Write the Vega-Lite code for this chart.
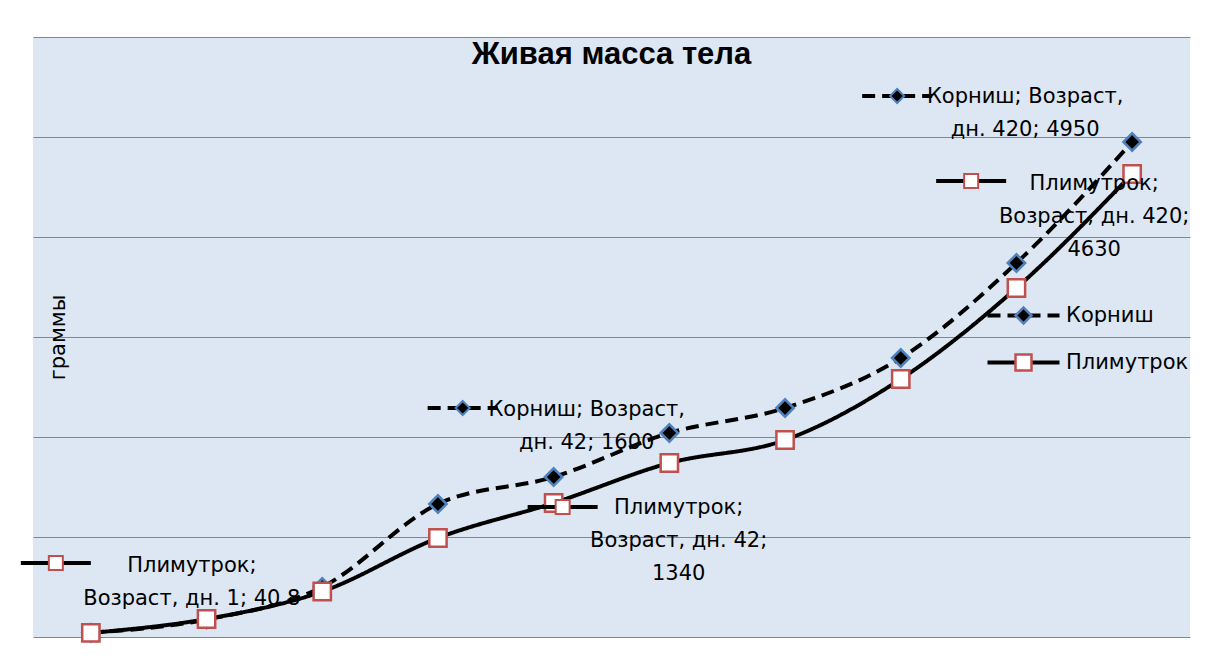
{
  "$schema": "https://vega.github.io/schema/vega-lite/v6.json",
  "width": 1157,
  "height": 600,
  "autosize": {"type": "none"},
  "padding": {"left": 33, "top": 37, "right": 16, "bottom": 22},
  "background": "white",
  "config": {
    "view": {"fill": "#dde7f3", "stroke": null},
    "font": "DejaVu Sans"
  },
  "title": {
    "text": "Живая масса тела",
    "font": "Liberation Sans",
    "fontSize": 31,
    "fontWeight": "bold",
    "color": "#000000",
    "anchor": "middle",
    "frame": "group",
    "baseline": "alphabetic",
    "offset": -27,
    "dy": 31
  },
  "data": {
    "values": [
      {"series": "Корниш", "age": 1, "grams": 42},
      {"series": "Корниш", "age": 7, "grams": 175},
      {"series": "Корниш", "age": 14, "grams": 500},
      {"series": "Корниш", "age": 28, "grams": 1330},
      {"series": "Корниш", "age": 42, "grams": 1600, "label": "Корниш; Возраст,\nдн. 42; 1600"},
      {"series": "Корниш", "age": 60, "grams": 2040},
      {"series": "Корниш", "age": 90, "grams": 2290},
      {"series": "Корниш", "age": 120, "grams": 2790},
      {"series": "Корниш", "age": 180, "grams": 3740},
      {"series": "Корниш", "age": 420, "grams": 4950, "label": "Корниш; Возраст,\nдн. 420; 4950"},
      {"series": "Плимутрок", "age": 1, "grams": 40.8, "label": "Плимутрок;\nВозраст, дн. 1; 40.8"},
      {"series": "Плимутрок", "age": 7, "grams": 180},
      {"series": "Плимутрок", "age": 14, "grams": 455},
      {"series": "Плимутрок", "age": 28, "grams": 990},
      {"series": "Плимутрок", "age": 42, "grams": 1340, "label": "Плимутрок;\nВозраст, дн. 42;\n1340"},
      {"series": "Плимутрок", "age": 60, "grams": 1740},
      {"series": "Плимутрок", "age": 90, "grams": 1970},
      {"series": "Плимутрок", "age": 120, "grams": 2580},
      {"series": "Плимутрок", "age": 180, "grams": 3490},
      {"series": "Плимутрок", "age": 420, "grams": 4630, "label": "Плимутрок;\nВозраст, дн. 420;\n4630"}
    ]
  },
  "encoding": {
    "x": {"field": "age", "type": "ordinal", "axis": null, "scale": {"type": "point", "padding": 0.5}},
    "y": {
      "field": "grams",
      "type": "quantitative",
      "scale": {"domain": [0, 6000], "nice": false},
      "axis": {
        "values": [0, 1000, 2000, 3000, 4000, 5000, 6000],
        "grid": true,
        "gridColor": "#868686",
        "gridWidth": 1,
        "gridOpacity": 1,
        "labels": false,
        "ticks": false,
        "domain": false,
        "title": "граммы",
        "titleFont": "DejaVu Sans",
        "titleFontSize": 21,
        "titleFontWeight": "normal",
        "titleColor": "#000000",
        "titleAngle": -90,
        "titleAlign": "center",
        "titleBaseline": "alphabetic",
        "titleX": 31,
        "titleY": 300
      }
    }
  },
  "layer": [
    {
      "mark": {"type": "line", "color": "#000000", "strokeWidth": 4, "interpolate": "monotone", "strokeCap": "butt"},
      "encoding": {
        "strokeDash": {
          "field": "series",
          "type": "nominal",
          "scale": {"range": [[13, 7], [1, 0]]},
          "legend": {
            "orient": "none",
            "legendX": 980,
            "legendY": 268,
            "title": null,
            "padding": 0,
            "symbolType": "M-4.5,0H4.5",
            "symbolSize": 256,
            "symbolStrokeWidth": 4,
            "symbolStrokeColor": "#000000",
            "labelFont": "DejaVu Sans",
            "labelFontSize": 21,
            "labelColor": "#000000",
            "labelOffset": 32,
            "rowPadding": 25
          }
        }
      }
    },
    {
      "mark": {"type": "point", "filled": true, "size": 300, "strokeWidth": 2.5, "opacity": 1},
      "encoding": {
        "shape": {
          "field": "series",
          "type": "nominal",
          "scale": {"domain": ["Корниш", "Плимутрок"], "range": ["diamond", "square"]},
          "legend": {
            "orient": "none",
            "legendX": 980,
            "legendY": 268,
            "title": null,
            "padding": 0,
            "symbolSize": 256,
            "symbolStrokeWidth": 2.5,
            "labelFont": "DejaVu Sans",
            "labelFontSize": 21,
            "labelExpr": "''",
            "labelOffset": 32,
            "rowPadding": 20
          }
        },
        "fill": {
          "field": "series",
          "type": "nominal",
          "scale": {"domain": ["Корниш", "Плимутрок"], "range": ["#000000", "#ffffff"]}
        },
        "stroke": {
          "field": "series",
          "type": "nominal",
          "scale": {"domain": ["Корниш", "Плимутрок"], "range": ["#4f81bd", "#c0504d"]}
        }
      }
    },
    {
      "transform": [{"filter": {"and": [{"field": "series", "equal": "Плимутрок"}, {"field": "age", "equal": 1}]}}],
      "layer": [
        {"mark": {"type": "point", "shape": "M-3.5,0H3.5", "size": 400, "filled": false, "stroke": "#000000", "strokeWidth": 4, "opacity": 1, "xOffset": -35, "yOffset": -70}},
        {"mark": {"type": "point", "shape": "square", "size": 196, "filled": true, "fill": "#ffffff", "stroke": "#c0504d", "strokeWidth": 2, "opacity": 1, "xOffset": -35, "yOffset": -70}},
        {"mark": {"type": "text", "font": "DejaVu Sans", "fontSize": 21, "lineBreak": "\n", "lineHeight": 33, "align": "center", "baseline": "middle", "color": "#000000", "dx": 101, "dy": -67}, "encoding": {"text": {"field": "label"}}}
      ]
    },
    {
      "transform": [{"filter": {"and": [{"field": "series", "equal": "Корниш"}, {"field": "age", "equal": 42}]}}],
      "layer": [
        {"mark": {"type": "point", "shape": "M-3.5,0H3.5", "size": 400, "filled": false, "stroke": "#000000", "strokeWidth": 4, "strokeDash": [13, 7], "strokeCap": "butt", "opacity": 1, "xOffset": -91, "yOffset": -69}},
        {"mark": {"type": "point", "shape": "diamond", "size": 196, "filled": true, "fill": "#000000", "stroke": "#4f81bd", "strokeWidth": 2, "opacity": 1, "xOffset": -91, "yOffset": -69}},
        {"mark": {"type": "text", "font": "DejaVu Sans", "fontSize": 21, "lineBreak": "\n", "lineHeight": 33, "align": "center", "baseline": "middle", "color": "#000000", "dx": 33, "dy": -67}, "encoding": {"text": {"field": "label"}}}
      ]
    },
    {
      "transform": [{"filter": {"and": [{"field": "series", "equal": "Плимутрок"}, {"field": "age", "equal": 42}]}}],
      "layer": [
        {"mark": {"type": "point", "shape": "M-3.5,0H3.5", "size": 400, "filled": false, "stroke": "#000000", "strokeWidth": 4, "opacity": 1, "xOffset": 9, "yOffset": 4}},
        {"mark": {"type": "point", "shape": "square", "size": 196, "filled": true, "fill": "#ffffff", "stroke": "#c0504d", "strokeWidth": 2, "opacity": 1, "xOffset": 9, "yOffset": 4}},
        {"mark": {"type": "text", "font": "DejaVu Sans", "fontSize": 21, "lineBreak": "\n", "lineHeight": 33, "align": "center", "baseline": "middle", "color": "#000000", "dx": 125, "dy": 5}, "encoding": {"text": {"field": "label"}}}
      ]
    },
    {
      "transform": [{"filter": {"and": [{"field": "series", "equal": "Корниш"}, {"field": "age", "equal": 420}]}}],
      "layer": [
        {"mark": {"type": "point", "shape": "M-3.5,0H3.5", "size": 400, "filled": false, "stroke": "#000000", "strokeWidth": 4, "strokeDash": [13, 7], "strokeCap": "butt", "opacity": 1, "xOffset": -235, "yOffset": -46}},
        {"mark": {"type": "point", "shape": "diamond", "size": 196, "filled": true, "fill": "#000000", "stroke": "#4f81bd", "strokeWidth": 2, "opacity": 1, "xOffset": -235, "yOffset": -46}},
        {"mark": {"type": "text", "font": "DejaVu Sans", "fontSize": 21, "lineBreak": "\n", "lineHeight": 33, "align": "center", "baseline": "middle", "color": "#000000", "dx": -107, "dy": -45}, "encoding": {"text": {"field": "label"}}}
      ]
    },
    {
      "transform": [{"filter": {"and": [{"field": "series", "equal": "Плимутрок"}, {"field": "age", "equal": 420}]}}],
      "layer": [
        {"mark": {"type": "point", "shape": "M-3.5,0H3.5", "size": 400, "filled": false, "stroke": "#000000", "strokeWidth": 4, "opacity": 1, "xOffset": -161, "yOffset": 7}},
        {"mark": {"type": "point", "shape": "square", "size": 196, "filled": true, "fill": "#ffffff", "stroke": "#c0504d", "strokeWidth": 2, "opacity": 1, "xOffset": -161, "yOffset": 7}},
        {"mark": {"type": "text", "font": "DejaVu Sans", "fontSize": 21, "lineBreak": "\n", "lineHeight": 33, "align": "center", "baseline": "middle", "color": "#000000", "dx": -38, "dy": 10}, "encoding": {"text": {"field": "label"}}}
      ]
    }
  ]
}
